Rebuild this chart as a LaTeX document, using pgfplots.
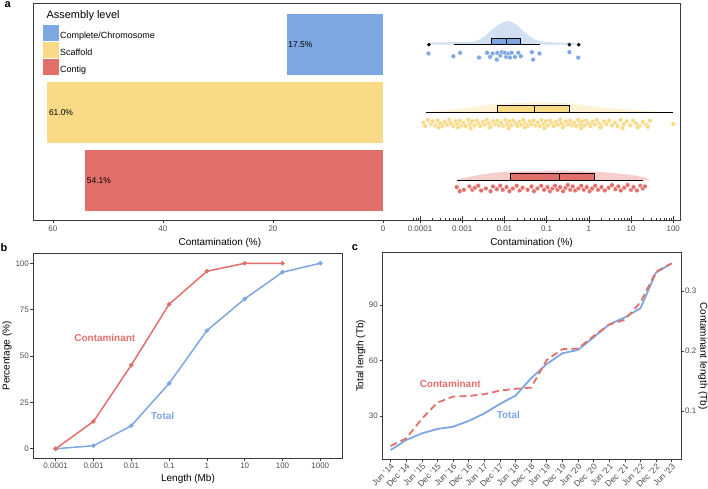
\documentclass[border=0pt]{standalone}
\usepackage{pgfplots}
\pgfplotsset{compat=1.18}
\usepackage{fontspec}
\setmainfont{Liberation Sans}

\definecolor{cBlue}{HTML}{7DA7E0}
\definecolor{cYellow}{HTML}{F9DA86}
\definecolor{cRed}{HTML}{E1706B}
\definecolor{tickgray}{HTML}{4D4D4D}
\definecolor{framegray}{HTML}{3A3A3A}

\pgfplotsset{
  base/.style={
    scale only axis,
    /pgf/number format/assume math mode=true,
    tick label style={font=\fontsize{8}{9}\selectfont, text=tickgray},
    label style={font=\fontsize{10}{12}\selectfont},
    tick style={framegray, line width=0.5bp},
    axis line style={framegray, line width=1bp},
    tick align=outside,
    major tick length=2.5bp,
    yticklabel style={inner sep=1.5bp},
    xticklabel style={inner sep=2bp},
  },
  pts/.style={only marks, mark=*, mark size=2.4bp,
    mark options={fill=#1, draw=white, line width=0.3bp}},
  cloud/.style={fill=#1, fill opacity=0.35, draw=none, smooth, tension=0.5},
  boxed/.style={fill=#1, draw=black, line width=0.8bp},
}

\begin{document}
\begin{tikzpicture}
\useasboundingbox (0,0) rectangle (708bp,489bp);

% ---------------- panel a: share of contaminated assemblies ----------------
\begin{axis}[base,
  name=barsA, at={(33bp,268bp)}, anchor=south west,
  width=350bp, height=217bp,
  xbar, bar shift=0pt, bar width=0.9,
  x dir=reverse, xmin=0, xmax=63.6,
  ymin=0.4, ymax=3.6, ytick=\empty,
  xtick={0,20,40,60}, xtick pos=bottom,
  axis line style={draw=none},
  xlabel={Contamination (\%)},
  xlabel style={at={(axis description cs:0.534,-0.101)}, anchor=center},
  point meta=x,
  nodes near coords={\pgfmathprintnumber[fixed,fixed zerofill,precision=1]{\pgfplotspointmeta}\%},
  every node near coord/.append style={anchor=west, inner sep=1.5bp, text=black,
    font=\fontsize{8.5}{10}\selectfont},
  legend style={at={(axis description cs:0.0286,0.903)}, anchor=north west,
    draw=none, fill=none, inner sep=0pt, row sep=0.5bp,
    font=\fontsize{9}{10}\selectfont,
    /tikz/every even column/.append style={column sep=5bp}},
  legend cell align=left,
]
\addplot[fill=cBlue, draw=none, forget plot] coordinates {(17.5,3)};
\addplot[fill=cYellow, draw=none, forget plot] coordinates {(61.0,2)};
\addplot[fill=cRed, draw=none, forget plot] coordinates {(54.1,1)};
\addlegendimage{legend image code/.code={\fill[cBlue] (0bp,-4.2bp) rectangle (14.5bp,10.3bp);}}
\addlegendentry{Complete/Chromosome}
\addlegendimage{legend image code/.code={\fill[cYellow] (0bp,-4.2bp) rectangle (14.5bp,10.3bp);}}
\addlegendentry{Scaffold}
\addlegendimage{legend image code/.code={\fill[cRed] (0bp,-4.2bp) rectangle (14.5bp,10.3bp);}}
\addlegendentry{Contig}
\end{axis}
\node[anchor=base west, font=\fontsize{11}{13}\selectfont] at (43bp,470bp) {Assembly level};

% contamination per assembly, log10 scale
\begin{axis}[base,
  name=rainA, at={(383bp,268bp)}, anchor=south west,
  width=297bp, height=217bp,
  xmin=-4.877, xmax=2.161, ymin=0.4, ymax=3.6, ytick=\empty,
  xtick={-4,...,2}, xticklabels={,,,,,,}, xtick pos=bottom,
  tick align=inside, major tick length=5bp, minor tick length=2.5bp,
  minor xtick={-4.155,-4.097,-4.046,
    -3.699,-3.523,-3.398,-3.301,-3.222,-3.155,-3.097,-3.046,
    -2.699,-2.523,-2.398,-2.301,-2.222,-2.155,-2.097,-2.046,
    -1.699,-1.523,-1.398,-1.301,-1.222,-1.155,-1.097,-1.046,
    -0.699,-0.523,-0.398,-0.301,-0.222,-0.155,-0.097,-0.046,
    0.301,0.477,0.602,0.699,0.778,0.845,0.903,0.954,
    1.301,1.477,1.602,1.699,1.778,1.845,1.903,1.954},
  extra x ticks={-4,-3,-2,-1,0,1,2},
  extra x tick labels={0.0001,0.001,0.01,0.1,1,10,100},
  extra x tick style={tick align=outside, major tick length=2.5bp},
  axis line style={draw=none},
  xlabel={Contamination (\%)},
  xlabel style={at={(axis description cs:0.5,-0.101)}, anchor=center},
]
% density clouds (height above each row)
\addplot[cloud=cBlue] table[y expr=3+\thisrow{h}] {
x h
-3.82 0.00
-3.72 0.03
-3.40 0.035
-3.00 0.04
-2.70 0.05
-2.50 0.11
-2.30 0.22
-2.10 0.31
-1.94 0.35
-1.75 0.31
-1.55 0.20
-1.35 0.10
-1.15 0.05
-0.90 0.035
-0.60 0.03
-0.40 0.03
-0.22 0.00
} -- cycle;
\addplot[cloud=cYellow] table[y expr=2+\thisrow{h}] {
x h
-3.86 0.00
-3.40 0.03
-2.82 0.075
-2.18 0.125
-1.32 0.145
-0.45 0.135
-0.04 0.10
0.74 0.05
1.52 0.015
2.00 0.00
} -- cycle;
\addplot[cloud=cRed] table[y expr=1+\thisrow{h}] {
x h
-3.13 0.00
-3.00 0.03
-2.51 0.088
-1.87 0.128
-0.68 0.142
0.27 0.122
1.05 0.074
1.33 0.035
1.45 0.00
} -- cycle;

% whiskers
\addplot[black, line width=0.8bp] coordinates {(-3.19,3) (-1.16,3)};
\addplot[black, line width=0.8bp] coordinates {(-3.86,2) (1.99,2)};
\addplot[black, line width=0.8bp] coordinates {(-3.13,1) (1.29,1)};
% boxes and medians
\addplot[boxed=cBlue] coordinates {(-2.30,3) (-1.62,3) (-1.62,3.1) (-2.30,3.1)} -- cycle;
\addplot[black, line width=0.9bp] coordinates {(-1.945,3) (-1.945,3.1)};
\addplot[boxed=cYellow] coordinates {(-2.16,2) (-0.46,2) (-0.46,2.1) (-2.16,2.1)} -- cycle;
\addplot[black, line width=0.9bp] coordinates {(-1.30,2) (-1.30,2.1)};
\addplot[boxed=cRed] coordinates {(-1.87,1) (0.13,1) (0.13,1.1) (-1.87,1.1)} -- cycle;
\addplot[black, line width=0.9bp] coordinates {(-0.70,1) (-0.70,1.1)};
% outliers
\addplot[only marks, mark=*, mark size=1.6bp, black] coordinates {(-3.79,3) (-0.46,3) (-0.24,3)};

% individual assemblies
\addplot[pts=cBlue] coordinates {
(-3.80,2.87) (-3.21,2.83) (-3.05,2.88) (-2.60,2.81) (-2.41,2.88) (-2.34,2.82)
(-2.28,2.87) (-2.18,2.78) (-2.17,2.88) (-2.10,2.84) (-2.06,2.89) (-1.99,2.88)
(-1.96,2.82) (-1.91,2.87) (-1.87,2.81) (-1.83,2.88) (-1.75,2.82) (-1.67,2.88)
(-1.61,2.83) (-1.35,2.89) (-1.32,2.78) (-1.17,2.87) (-0.46,2.89) (-0.25,2.81)};
\addplot[pts=cYellow] coordinates {
(-3.92,1.85) (-3.88,1.80) (-3.81,1.89) (-3.74,1.83) (-3.70,1.87) (-3.63,1.81) (-3.58,1.88) (-3.52,1.84) (-3.47,1.80)
(-3.42,1.86) (-3.36,1.82) (-3.31,1.89) (-3.27,1.84) (-3.21,1.80) (-3.16,1.87) (-3.12,1.83) (-3.06,1.88) (-3.01,1.81)
(-2.97,1.85) (-2.92,1.80) (-2.86,1.89) (-2.82,1.83) (-2.77,1.87) (-2.71,1.81) (-2.66,1.88) (-2.62,1.84) (-2.57,1.80)
(-2.51,1.86) (-2.47,1.82) (-2.42,1.89) (-2.37,1.84) (-2.32,1.80) (-2.27,1.87) (-2.22,1.83) (-2.17,1.88) (-2.13,1.81)
(-2.08,1.85) (-2.03,1.80) (-1.98,1.89) (-1.93,1.83) (-1.88,1.87) (-1.84,1.81) (-1.79,1.88) (-1.74,1.84) (-1.69,1.80)
(-1.64,1.86) (-1.60,1.82) (-1.55,1.89) (-1.50,1.84) (-1.45,1.80) (-1.40,1.87) (-1.36,1.83) (-1.31,1.88) (-1.26,1.81)
(-1.21,1.85) (-1.16,1.80) (-1.12,1.89) (-1.07,1.83) (-1.02,1.87) (-0.97,1.81) (-0.92,1.88) (-0.88,1.84) (-0.83,1.80)
(-0.78,1.86) (-0.73,1.82) (-0.68,1.89) (-0.64,1.84) (-0.59,1.80) (-0.54,1.87) (-0.49,1.83) (-0.44,1.88) (-0.40,1.81)
(-0.35,1.85) (-0.30,1.80) (-0.25,1.89) (-0.20,1.83) (-0.16,1.87) (-0.11,1.81) (-0.06,1.88) (-0.01,1.84) (0.04,1.80)
(0.09,1.86) (0.14,1.82) (0.19,1.89) (0.24,1.84) (0.30,1.80) (0.36,1.87) (0.42,1.83) (0.48,1.88) (0.55,1.81)
(0.62,1.85) (0.68,1.80) (0.75,1.89) (0.83,1.83) (0.90,1.87) (0.98,1.81) (1.05,1.88) (1.12,1.84) (1.20,1.80)
(1.28,1.86) (1.36,1.82) (1.45,1.88) (2.00,1.83)
(-3.56,1.78) (-3.10,1.78) (-2.80,1.77) (-2.35,1.78) (-1.90,1.77) (-1.52,1.78) (-1.05,1.77)
(-0.62,1.78) (-0.18,1.77) (0.27,1.78) (0.80,1.77) (1.16,1.78) (1.40,1.79)};
\addplot[pts=cRed] coordinates {
(-3.13,0.90) (-3.06,0.84) (-2.96,0.86) (-2.83,0.91) (-2.76,0.86) (-2.70,0.89) (-2.62,0.92) (-2.55,0.85)
(-2.44,0.88) (-2.33,0.84) (-2.27,0.91) (-2.18,0.87) (-2.10,0.92) (-2.04,0.86) (-1.95,0.90) (-1.88,0.84)
(-1.80,0.88) (-1.71,0.92) (-1.64,0.85) (-1.57,0.89) (-1.45,0.86) (-1.36,0.91) (-1.30,0.84) (-1.22,0.88)
(-1.13,0.92) (-1.06,0.86) (-0.98,0.90) (-0.92,0.84) (-0.86,0.88) (-0.80,0.92) (-0.74,0.86) (-0.68,0.90)
(-0.61,0.84) (-0.55,0.89) (-0.50,0.93) (-0.44,0.86) (-0.38,0.91) (-0.32,0.85) (-0.25,0.88) (-0.18,0.92)
(-0.12,0.86) (-0.05,0.90) (0.02,0.84) (0.08,0.88) (0.15,0.92) (0.22,0.86) (0.30,0.90) (0.38,0.85)
(0.47,0.89) (0.55,0.93) (0.63,0.87) (0.70,0.91) (0.76,0.85) (0.84,0.89) (0.92,0.93) (1.00,0.86)
(1.06,0.90) (1.14,0.85) (1.22,0.92) (1.28,0.88) (1.33,0.91)};
\end{axis}
\draw[framegray, line width=1bp] (barsA.south west) rectangle (rainA.north east);

% ---------------- panel b: cumulative length distribution ----------------
\begin{axis}[base,
  at={(33bp,31bp)}, anchor=south west, width=310bp, height=204bp,
  xmin=0.4, xmax=8.6, ymin=-5, ymax=105,
  xtick={1,...,8}, xticklabels={0.0001,0.001,0.01,0.1,1,10,100,1000},
  ytick={0,25,50,75,100},
  xtick pos=bottom, ytick pos=left,
  xlabel={Length (Mb)}, ylabel={Percentage (\%)},
  xlabel style={at={(axis description cs:0.5,-0.103)}, anchor=center},
  ylabel style={at={(axis description cs:-0.084,0.5)}, anchor=center},
]
\addplot[cBlue, line width=1.5bp, mark=*, mark size=1.4bp] coordinates {
(1,0) (2,1.6) (3,12.4) (4,35.2) (5,63.7) (6,80.8) (7,95.2) (8,100)};
\addplot[cRed, line width=1.5bp, mark=*, mark size=1.4bp] coordinates {
(1,0) (2,14.7) (3,45.1) (4,77.9) (5,95.7) (6,100) (7,100)};
\node[text=cRed, font=\bfseries\fontsize{10}{12}\selectfont] at (axis cs:2.30,60) {Contaminant};
\node[text=cBlue, font=\bfseries\fontsize{10}{12}\selectfont] at (axis cs:3.83,17.9) {Total};
\end{axis}

% ---------------- panel c: growth over time ----------------
\begin{axis}[base,
  name=growth, at={(382bp,30bp)}, anchor=south west, width=299bp, height=206bp,
  xmin=0.45, xmax=19.6, ymin=6.76, ymax=118.1,
  xtick={1,...,19},
  xticklabels={Jun '14,Dec '14,Jun '15,Dec '15,Jun '16,Dec '16,Jun '17,Dec '17,Jun '18,
    Dec '18,Jun '19,Dec '19,Jun '20,Dec '20,Jun '21,Dec '21,Jun '22,Dec '22,Jun '23},
  xticklabel style={rotate=45, anchor=north east, inner sep=1bp, font=\fontsize{8.5}{10}\selectfont},
  ytick={30,60,90},
  xtick pos=bottom, ytick pos=left,
  ylabel={Total length (Tb)},
  ylabel style={at={(axis description cs:-0.0712,0.5)}, anchor=center},
]
\addplot[cBlue, line width=1.8bp] coordinates {
(1,11.6) (2,17.0) (3,20.6) (4,23.0) (5,24.2) (6,27.3) (7,31.4) (8,36.5) (9,41.0) (10,50.4)
(11,58.1) (12,63.9) (13,65.7) (14,72.5) (15,79.5) (16,83.3) (17,88.2) (18,107.5) (19,112.5)};
\node[text=cRed, font=\bfseries\fontsize{10}{12}\selectfont] at (axis cs:4.82,47.3) {Contaminant};
\node[text=cBlue, font=\bfseries\fontsize{10}{12}\selectfont] at (axis cs:8.54,30.5) {Total};
\end{axis}
\begin{axis}[base,
  at={(382bp,30bp)}, anchor=south west, width=299bp, height=206bp,
  xmin=0.45, xmax=19.6, ymin=0.02, ymax=0.3633,
  hide x axis, axis line style={draw=none},
  ytick={0.1,0.2,0.3}, ytick pos=right, yticklabel pos=right,
  ylabel={Contaminant length (Tb)},
  ylabel style={at={(axis description cs:1.0736,0.5)}, anchor=center, rotate=180},
]
\addplot[cRed, line width=1.8bp, dash pattern=on 7bp off 4bp] coordinates {
(1,0.0417) (2,0.0544) (3,0.087) (4,0.114) (5,0.124) (6,0.125) (7,0.128) (8,0.134) (9,0.137) (10,0.139)
(11,0.185) (12,0.203) (13,0.204) (14,0.225) (15,0.244) (16,0.252) (17,0.281) (18,0.332) (19,0.346)};
\end{axis}

% panel letters
\node[anchor=base west, font=\bfseries\fontsize{11}{13}\selectfont] at (1bp,481bp) {a};
\node[anchor=center, font=\bfseries\fontsize{11}{13}\selectfont] at (4bp,241bp) {b};
\node[anchor=center, font=\bfseries\fontsize{11}{13}\selectfont] at (355bp,241bp) {c};
\end{tikzpicture}
\end{document}
